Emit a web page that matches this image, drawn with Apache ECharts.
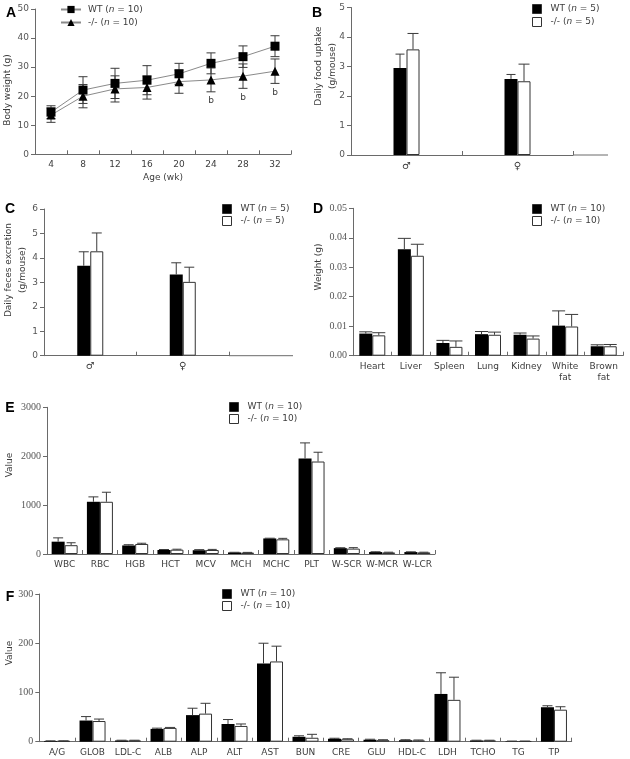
<!DOCTYPE html>
<html><head><meta charset="utf-8">
<script src="https://cdn.jsdelivr.net/npm/echarts/dist/echarts.min.js"></script>
<style>html,body{margin:0;padding:0;background:#fff}#c{width:630px;height:759px}</style>
</head><body><div id="c"></div>
<script>
// ---------- data ----------
const ageWeeks = ['4', '8', '12', '16', '20', '24', '28', '32'];
const bwWT = [14.5, 22.1, 24.4, 25.5, 27.7, 31.3, 33.6, 37.2];
const bwWTErr = [2.2, 4.6, 5.2, 5.0, 3.6, 3.6, 3.7, 3.6];
const bwKO = [13.5, 20.0, 22.5, 23.0, 25.0, 25.6, 26.9, 28.6];
const bwKOErr = [2.5, 4.0, 4.5, 4.0, 4.0, 4.1, 4.2, 4.2];
const bwSig = ['', '', '', '', '', 'b', 'b', 'b'];

const sexCats = ['\u2642', '\u2640'];
const foodWT = [2.95, 2.58];
const foodWTErr = [0.47, 0.15];
const foodKO = [3.58, 2.50];
const foodKOErr = [0.54, 0.58];

const fecesWT = [3.68, 3.32];
const fecesWTErr = [0.57, 0.48];
const fecesKO = [4.27, 3.02];
const fecesKOErr = [0.75, 0.60];

const organCats = ['Heart', 'Liver', 'Spleen', 'Lung', 'Kidney', 'White\nfat', 'Brown\nfat'];
const organWT = [0.0075, 0.0361, 0.0043, 0.0073, 0.0071, 0.0102, 0.0032];
const organWTErr = [0.0006, 0.0037, 0.0009, 0.0009, 0.0006, 0.0050, 0.0005];
const organKO = [0.0069, 0.0339, 0.0030, 0.0071, 0.0058, 0.0099, 0.0032];
const organKOErr = [0.0009, 0.0039, 0.0020, 0.0009, 0.0009, 0.0041, 0.0006];

const bloodCats = ['WBC', 'RBC', 'HGB', 'HCT', 'MCV', 'MCH', 'MCHC', 'PLT', 'W-SCR', 'W-MCR', 'W-LCR'];
const bloodWT = [252, 1068, 175, 82, 77, 32, 318, 1952, 120, 40, 40];
const bloodWTErr = [78, 100, 15, 10, 12, 3, 5, 320, 8, 6, 5];
const bloodKO = [180, 1068, 205, 88, 82, 30, 300, 1891, 110, 32, 32];
const bloodKOErr = [50, 195, 15, 10, 12, 3, 20, 190, 20, 5, 5];

const chemCats = ['A/G', 'GLOB', 'LDL-C', 'ALB', 'ALP', 'ALT', 'AST', 'BUN', 'CRE', 'GLU', 'HDL-C', 'LDH', 'TCHO', 'TG', 'TP'];
const chemWT = [1.5, 43, 2.5, 26, 54, 36, 159, 10, 6, 4, 3, 97, 2.5, 1, 70];
const chemWTErr = [0.3, 8, 0.5, 1.5, 14, 9, 41, 2, 1, 1, 1, 43, 0.5, 0.3, 3];
const chemKO = [1.5, 42, 2.5, 28, 57, 32, 163, 8, 5, 3, 2.5, 85, 2.5, 1, 65];
const chemKOErr = [0.3, 4, 0.5, 1, 21, 4, 31, 7, 1, 1, 1, 46, 0.5, 0.3, 6];

// ---------- styling / layout ----------
const SANS = 'DejaVu Sans';
const SERIF = 'Liberation Serif';
const TXT = '#3c3c3c';
const AXC = '#6a6a6a';
const ERRC = '#3a3a3a';

const grids = [
  { left: 35, top: 9, width: 256, height: 145.3 },      // A
  { left: 351, top: 7.5, width: 222, height: 147.5 },   // B
  { left: 44, top: 209, width: 185, height: 146.7 },    // C
  { left: 353, top: 208.3, width: 270, height: 147.4 }, // D
  { left: 47, top: 407.3, width: 388, height: 146.7 },  // E
  { left: 39.3, top: 594, width: 532.4, height: 147.7 } // F
];

function xCat(idx, data, extra) {
  return Object.assign({
    type: 'category', gridIndex: idx, data: data, boundaryGap: true,
    axisLine: { show: true, lineStyle: { color: AXC, width: 1 } },
    axisTick: { show: true, inside: true, length: 4, lineStyle: { color: AXC } },
    axisLabel: { interval: 0, margin: 5, color: TXT, fontFamily: SANS, fontSize: 9, lineHeight: 11 },
    splitLine: { show: false }
  }, extra || {});
}
function yVal(idx, max, interval, font, fmt, fsize) {
  return {
    type: 'value', gridIndex: idx, min: 0, max: max, interval: interval,
    axisLine: { show: true, lineStyle: { color: AXC, width: 1 } },
    axisTick: { show: true, inside: false, length: 4, lineStyle: { color: AXC } },
    axisLabel: { margin: 6, color: '#555', fontFamily: font, fontSize: fsize || 9, formatter: fmt || (v => String(v)) },
    splitLine: { show: false }
  };
}

function errorSeries(idx, vals, errs, shift, capW, both) {
  return {
    type: 'custom', xAxisIndex: idx, yAxisIndex: idx, z: 3, silent: true,
    data: vals.map((v, i) => [i, v, errs[i]]),
    renderItem: function (params, api) {
      const i = api.value(0), v = api.value(1), e = api.value(2);
      const top = api.coord([i, v + e]);
      const bot = api.coord([i, both ? v - e : v]);
      const x = top[0] + shift;
      const st = { stroke: ERRC, lineWidth: 1 };
      const ch = [
        { type: 'line', shape: { x1: x, y1: top[1], x2: x, y2: bot[1] }, style: st },
        { type: 'line', shape: { x1: x - capW / 2, y1: top[1], x2: x + capW / 2, y2: top[1] }, style: st }
      ];
      if (both) ch.push({ type: 'line', shape: { x1: x - capW / 2, y1: bot[1], x2: x + capW / 2, y2: bot[1] }, style: st });
      return { type: 'group', children: ch };
    }
  };
}

const BW = 13;
function barPair(idx, tag, wt, ko) {
  return [
    { name: 'WT-' + tag, type: 'bar', xAxisIndex: idx, yAxisIndex: idx, data: wt, barWidth: BW, barGap: '0%',
      itemStyle: { color: '#000', borderColor: '#000', borderWidth: 0 }, z: 2 },
    { name: 'KO-' + tag, type: 'bar', xAxisIndex: idx, yAxisIndex: idx, data: ko, barWidth: BW, barGap: '0%',
      itemStyle: { color: '#fff', borderColor: '#333', borderWidth: 1 }, z: 2 }
  ];
}

function legendAt(left, top, tag, n, isLine, gap) {
  const lg = {
    left: left, top: top, orient: 'vertical', padding: 0, itemGap: gap,
    itemWidth: isLine ? 20 : 9, itemHeight: 9, selectedMode: false,
    data: ['WT-' + tag, 'KO-' + tag].map(nm => isLine ? { name: nm } : { name: nm, icon: 'rect' }),
    formatter: function (name) {
      return (name.indexOf('WT') === 0 ? 'WT (' : '-/- (') + '{i|n}' + ' = ' + n + ')';
    },
    textStyle: {
      color: TXT, fontFamily: SANS, fontSize: 9, padding: [0, 0, 0, isLine ? 2 : 4],
      rich: { i: { fontStyle: 'italic', fontFamily: SANS, fontSize: 9, color: TXT } }
    }
  };
  if (!isLine) lg.itemStyle = { borderWidth: 1, borderColor: '#333' };
  return lg;
}

const series = [];
// A: body weight
series.push(errorSeries(0, bwWT, bwWTErr, 0, 9, true));
series.push(errorSeries(0, bwKO, bwKOErr, 0, 9, true));
series.push({ name: 'WT-A', type: 'line', xAxisIndex: 0, yAxisIndex: 0, data: bwWT, symbol: 'rect', symbolSize: 9,
  itemStyle: { color: '#000' }, lineStyle: { color: '#8a8a8a', width: 1 }, z: 4, silent: true });
series.push({ name: 'KO-A', type: 'line', xAxisIndex: 0, yAxisIndex: 0, data: bwKO, symbol: 'triangle', symbolSize: 9,
  itemStyle: { color: '#000' }, lineStyle: { color: '#8a8a8a', width: 1 }, z: 4, silent: true });
series.push({
  type: 'custom', xAxisIndex: 0, yAxisIndex: 0, z: 5, silent: true,
  data: bwKO.map((v, i) => [i, v, bwKOErr[i]]),
  renderItem: function (params, api) {
    const s = bwSig[params.dataIndex];
    if (!s) return null;
    const p = api.coord([api.value(0), api.value(1) - api.value(2)]);
    return { type: 'text', x: p[0], y: p[1] + 9, style: { text: s, fill: TXT, font: '9px ' + SANS, textAlign: 'center', textVerticalAlign: 'middle' } };
  }
});
// B: food uptake
series.push(...barPair(1, 'B', foodWT, foodKO));
series.push(errorSeries(1, foodWT, foodWTErr, -BW / 2, 9, false));
series.push(errorSeries(1, foodKO, foodKOErr, BW / 2, 11, false));
// C: feces
series.push(...barPair(2, 'C', fecesWT, fecesKO));
series.push(errorSeries(2, fecesWT, fecesWTErr, -BW / 2, 10, false));
series.push(errorSeries(2, fecesKO, fecesKOErr, BW / 2, 10, false));
// D: organs
series.push(...barPair(3, 'D', organWT, organKO));
series.push(errorSeries(3, organWT, organWTErr, -BW / 2, 13, false));
series.push(errorSeries(3, organKO, organKOErr, BW / 2, 13, false));
// E: blood
series.push(...barPair(4, 'E', bloodWT, bloodKO));
series.push(errorSeries(4, bloodWT, bloodWTErr, -BW / 2, 10, false));
series.push(errorSeries(4, bloodKO, bloodKOErr, BW / 2, 9, false));
// F: chemistry
series.push(...barPair(5, 'F', chemWT, chemKO));
series.push(errorSeries(5, chemWT, chemWTErr, -BW / 2, 10, false));
series.push(errorSeries(5, chemKO, chemKOErr, BW / 2, 10, false));

function label(text, x, y, opts) {
  return Object.assign({ type: 'text', x: x, y: y, silent: true,
    style: Object.assign({ text: text, fill: TXT, font: '9px ' + SANS, textAlign: 'center', textVerticalAlign: 'middle' }, (opts && opts.style) || {}) },
    opts && opts.rotation !== undefined ? { rotation: opts.rotation } : {});
}
const R = Math.PI / 2;
const letterStyle = { font: 'bold 14px Liberation Sans', fill: '#000' };
const graphic = [
  label('A', 11, 13, { style: letterStyle }),
  label('B', 317, 13, { style: letterStyle }),
  label('C', 10, 209, { style: letterStyle }),
  label('D', 318, 209, { style: letterStyle }),
  label('E', 10, 408, { style: letterStyle }),
  label('F', 10, 597, { style: letterStyle }),
  label('Body weight (g)', 8, 90, { rotation: R }),
  label('Daily food uptake\n(g/mouse)', 326, 66, { rotation: R, style: { lineHeight: 14 } }),
  label('Daily feces excretion\n(g/mouse)', 16, 270, { rotation: R, style: { lineHeight: 14 } }),
  label('Weight (g)', 319, 267, { rotation: R }),
  label('Value', 10, 465, { rotation: R }),
  label('Value', 10, 653, { rotation: R }),
  { type: 'line', silent: true, shape: { x1: 573, y1: 155, x2: 608, y2: 155 }, style: { stroke: AXC, lineWidth: 1 } },
  { type: 'line', silent: true, shape: { x1: 229, y1: 355.7, x2: 293, y2: 355.7 }, style: { stroke: AXC, lineWidth: 1 } }
];

const option = {
  backgroundColor: '#fff',
  animation: false,
  grid: grids.map(g => Object.assign({ containLabel: false, outerBoundsMode: 'none' }, g)),
  xAxis: [
    xCat(0, ageWeeks, { name: 'Age (wk)', nameLocation: 'middle', nameGap: 19,
      nameTextStyle: { color: TXT, fontFamily: SANS, fontSize: 9 } }),
    xCat(1, sexCats, { axisLabel: { interval: 0, margin: 6, color: TXT, fontFamily: SANS, fontSize: 10 } }),
    xCat(2, sexCats, { axisLabel: { interval: 0, margin: 6, color: TXT, fontFamily: SANS, fontSize: 10 } }),
    xCat(3, organCats),
    xCat(4, bloodCats),
    xCat(5, chemCats)
  ],
  yAxis: [
    yVal(0, 50, 10, SANS),
    yVal(1, 5, 1, SANS),
    yVal(2, 6, 1, SANS),
    yVal(3, 0.05, 0.01, SERIF, v => v.toFixed(2), 10),
    yVal(4, 3000, 1000, SERIF, null, 10),
    yVal(5, 300, 100, SERIF, null, 10)
  ],
  legend: [
    legendAt(60, 5, 'A', 10, true, 4),
    legendAt(532, 4, 'B', 5, false, 3),
    legendAt(222, 204, 'C', 5, false, 2),
    legendAt(532, 204, 'D', 10, false, 2),
    legendAt(229, 402, 'E', 10, false, 2),
    legendAt(222, 589, 'F', 10, false, 2)
  ],
  graphic: graphic,
  series: series
};

const chart = echarts.init(document.getElementById('c'), null, { renderer: 'canvas' });
chart.setOption(option);
</script></body></html>
